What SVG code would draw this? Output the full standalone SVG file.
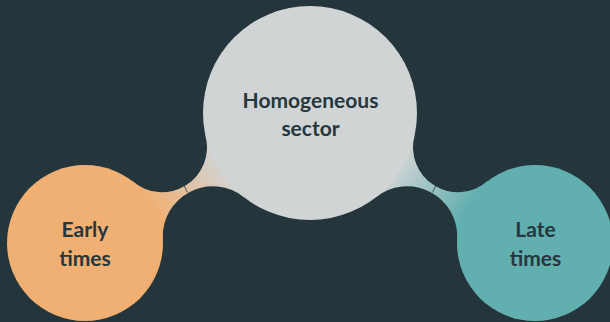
<svg xmlns="http://www.w3.org/2000/svg" width="610" height="322" viewBox="0 0 610 322">
  <style>
    .lbl { font-family: Lato, "Open Sans", "Liberation Sans", sans-serif; font-weight: bold; font-size: 21px; fill: #26383d; text-anchor: middle; }
    .neck { stroke: #26383d; stroke-width: 0.8; fill: none; }
  </style>
  <defs>
    <linearGradient id="gL" gradientUnits="userSpaceOnUse" x1="150" y1="206" x2="220" y2="158">
      <stop offset="0" stop-color="#f0b073"/>
      <stop offset="1" stop-color="#d1d4d5"/>
    </linearGradient>
    <linearGradient id="gR" gradientUnits="userSpaceOnUse" x1="470" y1="206" x2="400" y2="158">
      <stop offset="0" stop-color="#62afb0"/>
      <stop offset="1" stop-color="#d1d4d5"/>
    </linearGradient>
  </defs>
  <rect width="610" height="322" fill="#24353b"/>
  <g id="connectors">
    <path d="M132.4,181.1 A45,45 0 0 0 205.4,135.3 L310,113 L244.1,197.3 A50,50 0 0 0 162.9,239.3 L85,243 Z" fill="url(#gL)"/>
    <path d="M487.6,181.1 A45,45 0 0 1 414.6,135.3 L310,113 L375.9,197.3 A50,50 0 0 1 457.1,239.3 L535,243 Z" fill="url(#gR)"/>
    <line class="neck" x1="181.3" y1="179.8" x2="187.6" y2="192.6"/>
    <line class="neck" x1="438.7" y1="179.8" x2="432.4" y2="192.6"/>
  </g>
  <g id="node-center">
    <circle cx="310" cy="113" r="107" fill="#d1d4d5"/>
    <text class="lbl" x="310.5" y="107.5">Homogeneous</text>
    <text class="lbl" x="310.5" y="135.5">sector</text>
  </g>
  <g id="node-early">
    <circle cx="85" cy="243" r="78" fill="#f0b073"/>
    <text class="lbl" x="85" y="237">Early</text>
    <text class="lbl" x="85" y="266">times</text>
  </g>
  <g id="node-late">
    <circle cx="535" cy="243" r="78" fill="#62afb0"/>
    <text class="lbl" x="535.5" y="237">Late</text>
    <text class="lbl" x="535.5" y="266">times</text>
  </g>
</svg>
